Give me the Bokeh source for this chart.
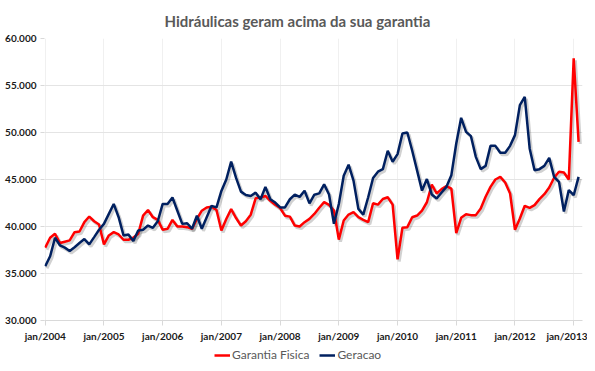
from bokeh.plotting import figure
from bokeh.layouts import column
from bokeh.models import FixedTicker, Legend, LegendItem, Range1d, ColumnDataSource
from bokeh.embed import file_html
from bokeh.resources import INLINE

# Monthly series, jan/2004 .. feb/2013
garantia_fisica = [
    37750, 38800, 39230, 38240, 38380, 38520, 39400, 39470, 40460, 41060, 40560, 40210,
    38100, 39050, 39400, 39150, 38590, 38590, 38800, 39230, 41160, 41760, 40990, 40700,
    39650, 39750, 40700, 40000, 40000, 39930, 39750, 40800, 41680, 42030, 42100, 41750,
    39580, 40800, 41850, 40900, 40100, 40560, 41260, 43000, 43080, 43250, 42730, 42310,
    41960, 41150, 41050, 40100, 40000, 40460, 40810, 41340, 42000, 42600, 42300, 41700,
    38600, 40640, 41270, 41520, 40990, 40710, 40460, 42470, 42330, 42930, 43110, 42330,
    36500, 39860, 39930, 40990, 41170, 41700, 42580, 44450, 43510, 43970, 44290, 44040,
    39300, 40920, 41310, 41210, 41210, 41910, 43160, 44220, 45000, 45280, 44680, 43510,
    39650, 40850, 42200, 41990, 42270, 42910, 43440, 44150, 45180, 45820, 45740, 45000,
    57900, 49000,
]
geracao = [
    35770, 36830, 38800, 38000, 37750, 37400, 37800, 38240, 38660, 38100, 38870, 39650,
    40280, 41340, 42400, 40990, 39050, 39150, 38450, 39580, 39650, 40100, 39860, 40560,
    42400, 42400, 43080, 41680, 40280, 40350, 39760, 41150, 39760, 40980, 42200, 42030,
    43780, 45000, 46900, 45170, 43710, 43360, 43250, 43600, 42900, 44200, 42900, 42550,
    42030, 42030, 42900, 43400, 43150, 43800, 42460, 43380, 43520, 44480, 43400, 40300,
    42400, 45400, 46570, 44880, 41870, 41270, 43110, 45160, 45830, 46110, 48060, 46890,
    47700, 49890, 50000, 48060, 45940, 43820, 45050, 43400, 42980, 43620, 44220, 45460,
    48830, 51560, 50070, 49610, 47410, 46100, 46450, 48580, 48580, 47840, 47840, 48580,
    49720, 52910, 53790, 48300, 45990, 46100, 46450, 47300, 45280, 44750, 41600, 43870,
    43330, 45280,
]
x_tick_labels = ["jan/2004", "jan/2005", "jan/2006", "jan/2007", "jan/2008",
                 "jan/2009", "jan/2010", "jan/2011", "jan/2012", "jan/2013"]
y_tick_values = [30000, 35000, 40000, 45000, 50000, 55000, 60000]
y_tick_labels = ["30.000", "35.000", "40.000", "45.000", "50.000", "55.000", "60.000"]
series_names = ["Garantia Fisica", "Geracao"]

month_index = list(range(len(geracao)))
x_ticks = [12 * i for i in range(len(x_tick_labels))]

src = ColumnDataSource(dict(
    m=month_index,
    gf=garantia_fisica,
    ger=geracao,
    m_sh=[m + 0.35 for m in month_index],
    gf_sh=[v - 220 for v in garantia_fisica],
    ger_sh=[v - 220 for v in geracao],
))

FONT = "Lato"
RED = "#ff0000"
NAVY = "#002060"

p = figure(width=587, height=345, output_backend="svg", toolbar_location=None,
           x_range=Range1d(-0.15, 109.8), y_range=Range1d(30000, 60000),
           title="Hidráulicas geram acima da sua garantia",
           min_border_left=44, min_border_right=5, min_border_top=0, min_border_bottom=25)

p.title.align = "left"
p.title.offset = 120
p.title.text_font = FONT
p.title.text_font_size = "15px"
p.title.text_font_style = "bold"
p.title.text_color = "#595959"
p.title.standoff = 18

p.outline_line_color = None
p.background_fill_color = "white"
p.border_fill_color = "white"

# grids
p.ygrid.grid_line_color = "#e4e4e4"
p.ygrid.grid_line_width = 1
p.xgrid.grid_line_color = "#f0f0f0"
p.xgrid.grid_line_width = 1

# axes
p.xaxis.ticker = FixedTicker(ticks=x_ticks)
p.xaxis.major_label_overrides = {t: l for t, l in zip(x_ticks, x_tick_labels)}
p.yaxis.ticker = FixedTicker(ticks=y_tick_values)
p.yaxis.major_label_overrides = {t: l for t, l in zip(y_tick_values, y_tick_labels)}
for ax in (p.xaxis, p.yaxis):
    ax.major_label_text_font = FONT
    ax.major_label_text_font_size = "10px"
    ax.major_label_text_font_style = "bold"
    ax.major_label_text_color = "#1a1a1a"
    ax.minor_tick_line_color = None
    ax.major_tick_in = 0
p.xaxis.axis_line_color = "#d9d9d9"
p.xaxis.major_tick_line_color = "#d9d9d9"
p.xaxis.major_tick_out = 5
p.xaxis.major_label_standoff = 4
p.yaxis.axis_line_color = None
p.yaxis.major_tick_line_color = "#d9d9d9"
p.yaxis.major_tick_out = 4
p.yaxis.major_label_standoff = 4

# shadows
p.line("m_sh", "gf_sh", source=src, line_color="#000000", line_alpha=0.18, line_width=3)
p.line("m_sh", "ger_sh", source=src, line_color="#000000", line_alpha=0.18, line_width=3)

p.line("m", "gf", source=src, line_color=RED, line_width=2.5)
p.line("m", "ger", source=src, line_color=NAVY, line_width=2.5)

# legend strip below the chart
lg = figure(width=587, height=18, output_backend="svg", toolbar_location=None,
            x_range=Range1d(0, 1), y_range=Range1d(0, 1),
            x_axis_location=None, y_axis_location=None,
            min_border=0)
lg.grid.visible = False
lg.outline_line_color = None
lg.border_fill_color = "white"
l_gf = lg.line("m", "gf", source=src, line_color=RED, line_width=2.5)
l_ger = lg.line("m", "ger", source=src, line_color=NAVY, line_width=2.5)

legend = Legend(items=[LegendItem(label=series_names[0], renderers=[l_gf]),
                       LegendItem(label=series_names[1], renderers=[l_ger])],
                orientation="horizontal", location=(170, 1))
legend.label_text_font = FONT
legend.label_text_font_size = "12px"
legend.label_text_color = "#595959"
legend.border_line_color = None
legend.background_fill_alpha = 0
legend.glyph_width = 16
legend.glyph_height = 12
legend.label_height = 12
legend.label_standoff = 2
legend.spacing = 10
legend.padding = 1
legend.margin = 0
lg.add_layout(legend, "center")

layout = column(p, lg, spacing=0)
open("out.html", "w").write(file_html(layout, INLINE))
